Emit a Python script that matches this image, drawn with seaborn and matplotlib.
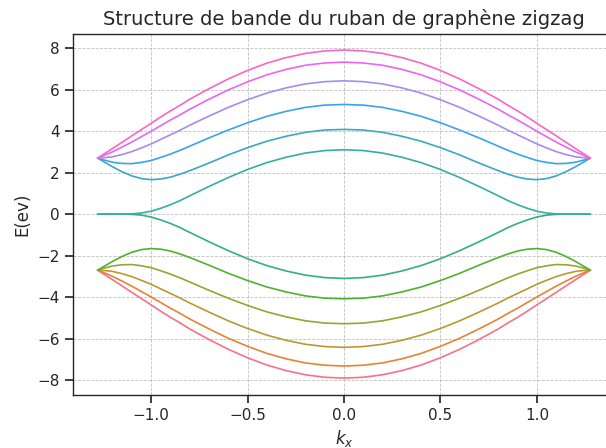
import matplotlib
matplotlib.use("Agg")
import matplotlib.pyplot as plt
import seaborn as sns
import pandas as pd

# wave vector samples (1/Angstrom)
k_x = [-1.277, -1.25, -1.2, -1.15, -1.1, -1.05, -1.0, -0.95, -0.9, -0.85, -0.8,
       -0.7, -0.6, -0.5, -0.4, -0.3, -0.2, -0.1, 0.0, 0.1, 0.2, 0.3, 0.4, 0.5, 0.6, 0.7,
       0.8, 0.85, 0.9, 0.95, 1.0, 1.05, 1.1, 1.15, 1.2, 1.25, 1.277]

# conduction bands (eV), lowest to highest
band_c1 = [0.0, 0.0, 0.0, 0.0, 0.01, 0.05, 0.14, 0.28, 0.45, 0.65, 0.88,
           1.33, 1.76, 2.15, 2.48, 2.74, 2.94, 3.06, 3.10, 3.06, 2.94, 2.74, 2.48, 2.15, 1.76, 1.33,
           0.88, 0.65, 0.45, 0.28, 0.14, 0.05, 0.01, 0.0, 0.0, 0.0, 0.0]
band_c2 = [2.70, 2.55, 2.28, 2.04, 1.84, 1.71, 1.66, 1.69, 1.78, 1.92, 2.09,
           2.46, 2.85, 3.20, 3.51, 3.75, 3.94, 4.05, 4.08, 4.05, 3.94, 3.75, 3.51, 3.20, 2.85, 2.46,
           2.09, 1.92, 1.78, 1.69, 1.66, 1.71, 1.84, 2.04, 2.28, 2.55, 2.70]
band_c3 = [2.70, 2.62, 2.50, 2.44, 2.43, 2.49, 2.58, 2.73, 2.89, 3.07, 3.27,
           3.67, 4.05, 4.40, 4.71, 4.95, 5.14, 5.25, 5.28, 5.25, 5.14, 4.95, 4.71, 4.40, 4.05, 3.67,
           3.27, 3.07, 2.89, 2.73, 2.58, 2.49, 2.43, 2.44, 2.50, 2.62, 2.70]
band_c4 = [2.70, 2.71, 2.76, 2.87, 3.01, 3.19, 3.38, 3.60, 3.82, 4.04, 4.28,
           4.72, 5.14, 5.51, 5.83, 6.08, 6.27, 6.38, 6.42, 6.38, 6.27, 6.08, 5.83, 5.51, 5.14, 4.72,
           4.28, 4.04, 3.82, 3.60, 3.38, 3.19, 3.01, 2.87, 2.76, 2.71, 2.70]
band_c5 = [2.70, 2.80, 3.00, 3.23, 3.47, 3.73, 3.99, 4.26, 4.53, 4.78, 5.05,
           5.53, 5.98, 6.37, 6.71, 6.97, 7.17, 7.28, 7.32, 7.28, 7.17, 6.97, 6.71, 6.37, 5.98, 5.53,
           5.05, 4.78, 4.53, 4.26, 3.99, 3.73, 3.47, 3.23, 3.00, 2.80, 2.70]
band_c6 = [2.70, 2.86, 3.16, 3.46, 3.77, 4.07, 4.37, 4.68, 4.97, 5.24, 5.53,
           6.04, 6.51, 6.92, 7.27, 7.54, 7.74, 7.86, 7.90, 7.86, 7.74, 7.54, 7.27, 6.92, 6.51, 6.04,
           5.53, 5.24, 4.97, 4.68, 4.37, 4.07, 3.77, 3.46, 3.16, 2.86, 2.70]

# valence bands (eV), lowest to highest
band_v1 = [-2.70, -2.86, -3.16, -3.46, -3.77, -4.07, -4.37, -4.68, -4.97, -5.24, -5.53,
           -6.04, -6.51, -6.92, -7.27, -7.54, -7.74, -7.86, -7.90, -7.86, -7.74, -7.54, -7.27, -6.92, -6.51, -6.04,
           -5.53, -5.24, -4.97, -4.68, -4.37, -4.07, -3.77, -3.46, -3.16, -2.86, -2.70]
band_v2 = [-2.70, -2.80, -3.00, -3.23, -3.47, -3.73, -3.99, -4.26, -4.53, -4.78, -5.05,
           -5.53, -5.98, -6.37, -6.71, -6.97, -7.17, -7.28, -7.32, -7.28, -7.17, -6.97, -6.71, -6.37, -5.98, -5.53,
           -5.05, -4.78, -4.53, -4.26, -3.99, -3.73, -3.47, -3.23, -3.00, -2.80, -2.70]
band_v3 = [-2.70, -2.71, -2.76, -2.87, -3.01, -3.19, -3.38, -3.60, -3.82, -4.04, -4.28,
           -4.72, -5.14, -5.51, -5.83, -6.08, -6.27, -6.38, -6.42, -6.38, -6.27, -6.08, -5.83, -5.51, -5.14, -4.72,
           -4.28, -4.04, -3.82, -3.60, -3.38, -3.19, -3.01, -2.87, -2.76, -2.71, -2.70]
band_v4 = [-2.70, -2.62, -2.50, -2.44, -2.43, -2.49, -2.58, -2.73, -2.89, -3.07, -3.27,
           -3.67, -4.05, -4.40, -4.71, -4.95, -5.14, -5.25, -5.28, -5.25, -5.14, -4.95, -4.71, -4.40, -4.05, -3.67,
           -3.27, -3.07, -2.89, -2.73, -2.58, -2.49, -2.43, -2.44, -2.50, -2.62, -2.70]
band_v5 = [-2.70, -2.55, -2.28, -2.04, -1.84, -1.71, -1.66, -1.69, -1.78, -1.92, -2.09,
           -2.46, -2.85, -3.20, -3.51, -3.75, -3.94, -4.05, -4.08, -4.05, -3.94, -3.75, -3.51, -3.20, -2.85, -2.46,
           -2.09, -1.92, -1.78, -1.69, -1.66, -1.71, -1.84, -2.04, -2.28, -2.55, -2.70]
band_v6 = [0.0, 0.0, 0.0, 0.0, -0.01, -0.05, -0.14, -0.28, -0.45, -0.65, -0.88,
           -1.33, -1.76, -2.15, -2.48, -2.74, -2.94, -3.06, -3.10, -3.06, -2.94, -2.74, -2.48, -2.15, -1.76, -1.33,
           -0.88, -0.65, -0.45, -0.28, -0.14, -0.05, -0.01, 0.0, 0.0, 0.0, 0.0]

bands = [band_v1, band_v2, band_v3, band_v4, band_v5, band_v6,
         band_c1, band_c2, band_c3, band_c4, band_c5, band_c6]

rows = []
for i, b in enumerate(bands):
    for kk, e in zip(k_x, b):
        rows.append({"k": kk, "E": e, "band": i})
df = pd.DataFrame(rows)

sns.set_theme(context="notebook", style="ticks")
plt.rcParams['font.family'] = ['DejaVu Sans']

fig = plt.figure(figsize=(6.06, 4.48), dpi=100)
ax = fig.add_axes([73 / 606, 1 - 394.5 / 448, (615 - 73) / 606, (394.5 - 33.7) / 448])

pal = sns.color_palette("husl", 12)
sns.lineplot(data=df, x="k", y="E", hue="band", palette=pal, legend=False,
             estimator=None, sort=False, linewidth=1.2, ax=ax)

ax.grid(True, linestyle="--", linewidth=0.6, color="#b0b0b0", alpha=0.8)
ax.set_title("Structure de bande du ruban de graphène zigzag", fontsize=14)
ax.set_xlabel("$k_x$", fontsize=12)
ax.set_ylabel("E(ev)", fontsize=12)
ax.tick_params(labelsize=11)
ax.margins(x=0.05, y=0.05)
for s in ax.spines.values():
    s.set_color("#262626")
    s.set_linewidth(1.0)

fig.savefig("out.png", dpi=100)
